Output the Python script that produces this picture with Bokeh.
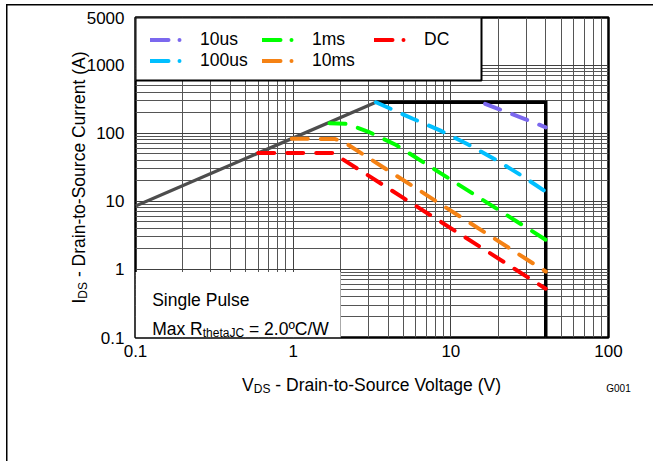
import math
from bokeh.plotting import figure
from bokeh.models import (FixedTicker, CustomJSTickFormatter, Label, Legend, LegendItem)
from bokeh.embed import file_html
from bokeh.resources import INLINE

# ---------------- data ----------------
x_ticks = [0.1, 1, 10, 100]
y_ticks = [0.1, 1, 10, 100, 1000, 5000]

rds_v = [0.1, 3.35]
rds_i = [8.5, 285]

limit_v = [3.35, 40, 40]
limit_i = [285, 285, 0.1]

us10_v = [16.5, 19.2, 29.0, 40]
us10_i = [270, 236, 164, 122]

us100_v = [3.35, 5.75, 8.6, 12.8, 19, 28, 40]
us100_i = [285, 163, 109, 69, 41.5, 24, 13.8]

ms1_v = [1.7, 2.2, 3.0, 4.5, 40]
ms1_i = [140, 137, 105, 67, 2.72]

ms10_v = [0.98, 1.85, 2.1, 40]
ms10_i = [83, 82, 74, 0.93]

dc_v = [0.6, 1.8, 1.95, 40]
dc_i = [51, 51, 45, 0.52]

series = [
    ("10us", us10_v, us10_i, "#7B68EE"),
    ("100us", us100_v, us100_i, "#00BFFF"),
    ("1ms", ms1_v, ms1_i, "#00FF00"),
    ("10ms", ms10_v, ms10_i, "#F58214"),
    ("DC", dc_v, dc_i, "#FF0000"),
]

FONT = "Liberation Sans"

# ---------------- figure ----------------
FL, FR, FT, FB = 135, 608, 17, 337
W, H = 653, 461
X0, X1, Y0, Y1 = 0.1, 100, 0.1, 5000
p = figure(width=W, height=H, x_axis_type="log", y_axis_type="log",
           x_range=(X0, X1), y_range=(Y0, Y1),
           output_backend="svg", toolbar_location=None, title=None,
           min_border_left=FL, min_border_right=W - FR,
           min_border_top=FT, min_border_bottom=H - FB)
p.background_fill_color = "white"
p.border_fill_color = None
p.outline_line_color = "black"
p.outline_line_width = 2.5
# page frame: thin lines along the top and left of the page, drawn as CSS background
p.styles = {
    "background": ("linear-gradient(#000, #000) 5.5px 3.5px / 1.5px 100% no-repeat, "
                   "linear-gradient(#000, #000) 5.5px 3.5px / 100% 1.5px no-repeat, "
                   "#ffffff"),
}


def dx(px):
    """canvas x pixel -> data x (log axis)"""
    lx0, lx1 = math.log10(X0), math.log10(X1)
    return 10 ** (lx0 + (lx1 - lx0) * (px - FL) / (FR - FL))


def dy(py):
    """canvas y pixel -> data y (log axis)"""
    ly0, ly1 = math.log10(Y0), math.log10(Y1)
    return 10 ** (ly0 + (ly1 - ly0) * (FB - py) / (FB - FT))


for ax in (p.xaxis[0], p.yaxis[0]):
    ax.axis_line_color = None
    ax.major_tick_line_color = None
    ax.minor_tick_line_color = None
    ax.major_tick_out = 0
    ax.major_tick_in = 0
    ax.minor_tick_out = 0
    ax.minor_tick_in = 0
    ax.major_label_text_font = FONT
    ax.major_label_text_font_size = "17px"
    ax.major_label_text_color = "black"
    ax.formatter = CustomJSTickFormatter(code="return tick.toString()")

p.xaxis[0].ticker = FixedTicker(ticks=x_ticks)
p.yaxis[0].ticker = FixedTicker(ticks=y_ticks)
p.xaxis[0].major_label_standoff = 7
p.yaxis[0].major_label_standoff = 11

xminor = [m * d for d in (0.1, 1, 10) for m in range(2, 10)]
yminor = [m * d for d in (0.1, 1, 10, 100) for m in range(2, 10)]
p.xgrid.ticker = FixedTicker(ticks=x_ticks, minor_ticks=xminor)
p.ygrid.ticker = FixedTicker(ticks=[0.1, 1, 10, 100, 1000], minor_ticks=yminor)
for g in (p.xgrid[0], p.ygrid[0]):
    g.grid_line_color = "#404040"
    g.grid_line_width = 1
    g.minor_grid_line_color = "#555555"
    g.minor_grid_line_width = 1

# white boxes (legend area and annotation area)
p.quad(left=[X0], right=[dx(481)], bottom=[dy(80)], top=[Y1],
       fill_color="white", line_color="black", line_width=2)
p.quad(left=[X0], right=[dx(340)], bottom=[Y0], top=[dy(271.5)],
       fill_color="white", line_color=None)

# limit lines
p.line(rds_v, rds_i, line_color="#4D4D4D", line_width=3.3)
p.line(limit_v, limit_i, line_color="black", line_width=3.5, line_join="miter")

legend_items = {}
for name, v, i, col in series:
    p.line(v, i, line_color=col, line_width=4, line_dash="16 13", line_cap="round")
    # off-screen proxy used only for the dash-dot legend swatch
    dummy = p.line([1e-4, 2e-4], [1e-4, 1e-4], line_color=col, line_width=4,
                   line_dash="18 11 0 11", line_cap="round")
    legend_items[name] = LegendItem(label=name, renderers=[dummy])

order = ["10us", "100us", "1ms", "10ms", "DC"]
legend = Legend(items=[legend_items[n] for n in order], orientation="vertical", ncols=3,
                location=(15, FB - 71), glyph_width=35, glyph_height=21,
                label_standoff=15, label_width=62, spacing=0, padding=0, margin=0,
                border_line_color=None, background_fill_alpha=0,
                label_text_font=FONT, label_text_font_size="17.5px",
                label_text_color="black")
p.add_layout(legend, "center")

# ---------------- texts ----------------
AW = {' ': .278, '-': .333, '(': .333, ')': .333, '.': .278, '/': .278, '=': .584,
      'º': .365, 'A': .667, 'C': .722, 'D': .722, 'I': .278, 'J': .5, 'M': .833,
      'P': .667, 'R': .722, 'S': .667, 'V': .667, 'W': .944, 'a': .556, 'c': .5,
      'e': .556, 'g': .556, 'h': .556, 'i': .222, 'l': .222, 'n': .556, 'o': .556,
      'r': .333, 's': .5, 't': .278, 'u': .556, 'x': .5}


def tw(s, size):
    return sum(AW.get(c, .556) for c in s) * size


def put(text, cx, cy, size, align="left", angle=0.0, panel="below"):
    p.add_layout(Label(x=dx(cx), y=dy(cy), x_units="data", y_units="data",
                       text=text, text_font=FONT, text_font_size=f"{size}px",
                       text_align=align, text_baseline="alphabetic", angle=angle,
                       text_color="black"), panel)


def run(parts, x, y, horizontal=True, panel="below"):
    """place a run of text pieces (with subscripts) starting at canvas (x, y)"""
    for t, s, off in parts:
        lead = len(t) - len(t.lstrip(" "))
        adv = tw(t[:lead], s)
        if horizontal:
            put(t.strip(" "), x + adv, y + off, s, panel=panel)
            x += tw(t, s)
        else:
            put(t.strip(" "), x + off, y - adv, s, angle=math.pi / 2, panel=panel)
            y -= tw(t, s)


BIG, SUB = 17.5, 12

xparts = [("V", BIG, 0), ("DS", SUB, 4), (" - Drain-to-Source Voltage (V)", BIG, 0)]
total = sum(tw(t, s) for t, s, _ in xparts)
run(xparts, (FL + FR) / 2 - total / 2, 384, True, "below")

yparts = [("I", BIG, 0), ("DS", SUB, 4), (" - Drain-to-Source Current (A)", BIG, 0)]
total = sum(tw(t, s) for t, s, _ in yparts)
run(yparts, 78.5, (FT + FB) / 2 + total / 2, False, "left")

put("Single Pulse", 151.7, 299.3, BIG, panel="center")
run([("Max R", BIG, 0), ("thetaJC", SUB, 4), (" = 2.0ºC/W", BIG, 0)], 151.7, 328.3,
    True, "center")

put("G001", 618, 388.3, 10, align="center", panel="below")

open("out.html", "w").write(file_html(p, INLINE))
